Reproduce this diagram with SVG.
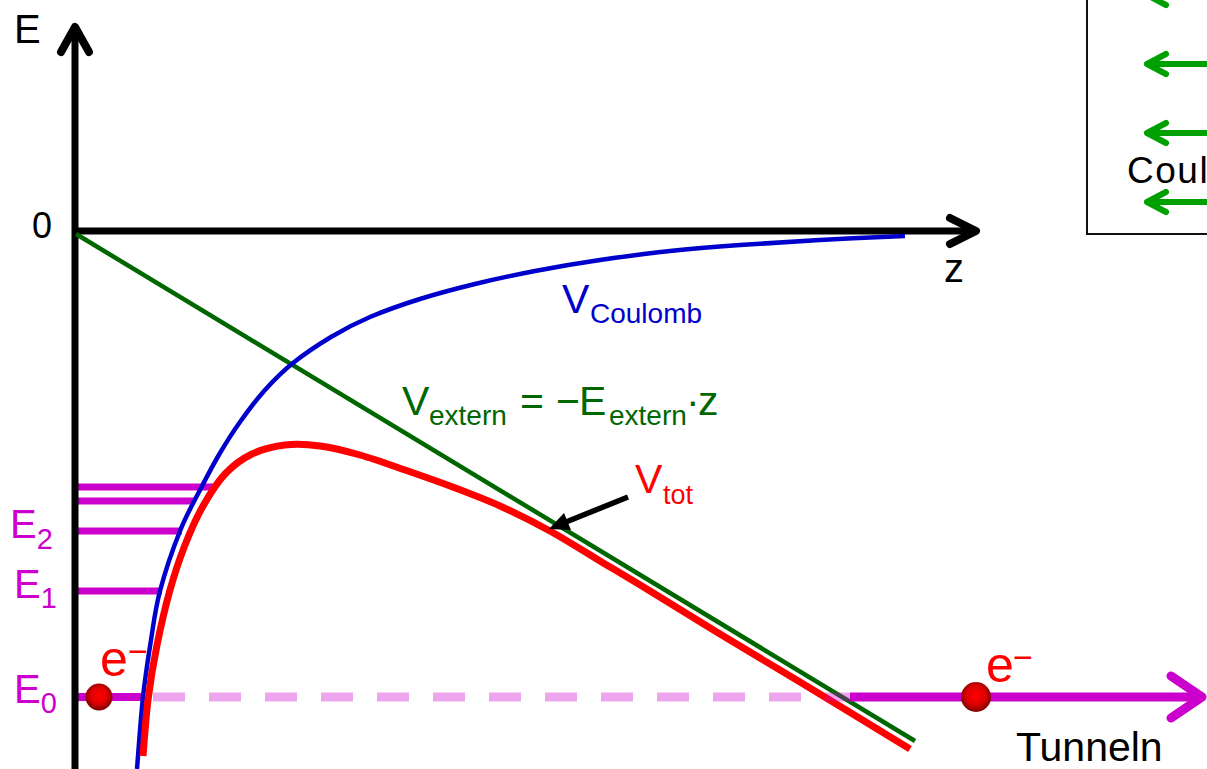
<svg xmlns="http://www.w3.org/2000/svg" width="1207" height="769" viewBox="0 0 1207 769">
<defs>
<style>
text{font-family:"Liberation Sans",Arial,sans-serif}
.ax{stroke:#000;stroke-width:7;fill:none}
.axh{stroke:#000;stroke-width:8;fill:none;stroke-linecap:round;stroke-linejoin:round}
.lvl{stroke:#cc00cc;stroke-width:7;fill:none}
.mg{fill:#cc00cc}
.rd{fill:#ff0000}
.gr{fill:#006600}
.bl{fill:#0000cc}
.la{stroke:#00a000;stroke-width:6;fill:none;stroke-linecap:round;stroke-linejoin:round}
</style>
<radialGradient id="ball" cx="50%" cy="45%" r="55%">
<stop offset="0" stop-color="#ff0000"/>
<stop offset="0.55" stop-color="#e00000"/>
<stop offset="1" stop-color="#7a0000"/>
</radialGradient>
</defs>
<rect width="1207" height="769" fill="#fff"/>

<g id="legend">
<rect x="1087" y="-10" width="140" height="244" fill="#fff" stroke="#111" stroke-width="2"/>
<path class="la" d="M1215,-5 H1147 M1166,-15 L1147,-5 L1166,5"/>
<path class="la" d="M1215,64 H1147 M1166,54 L1147,64 L1166,74"/>
<path class="la" d="M1215,133 H1147 M1166,123 L1147,133 L1166,143"/>
<path class="la" d="M1215,202 H1147 M1166,192 L1147,202 L1166,212"/>
<text x="1127" y="183" font-size="37" letter-spacing="1.5" fill="#000">Coul</text>
</g>

<g id="levels">
<line class="lvl" x1="78" y1="487" x2="217" y2="487"/>
<line class="lvl" x1="78" y1="501" x2="194" y2="501"/>
<line class="lvl" x1="78" y1="531" x2="182" y2="531"/>
<line class="lvl" x1="78" y1="591" x2="162" y2="591"/>
<line x1="78" y1="697" x2="145" y2="697" stroke="#cc00cc" stroke-width="8"/>
</g>

<g id="axes">
<line class="ax" x1="75" y1="769" x2="75" y2="28"/>
<path class="axh" d="M61,52 L75,27 L89,52"/>
<line class="ax" x1="72" y1="231" x2="975" y2="231"/>
<path class="axh" d="M950,218 L976,231 L950,244"/>
<text x="14" y="43" font-size="40" fill="#000">E</text>
<text x="52" y="238" font-size="36" fill="#000" text-anchor="end">0</text>
<text x="944" y="282" font-size="40" fill="#000">z</text>
</g>

<g id="curves">
<line x1="76" y1="234" x2="915" y2="741" stroke="#006600" stroke-width="4.5"/>
<path d="M137,769 C138,757 140.7,718.5 143,697 S148.2,657.7 151,640 S155.2,609.2 160,591 S173.3,547.8 180,531 S193.3,503 200,490 S213.3,464.3 220,453 S232.5,432.5 240,422 S256.2,399.8 265,390 S282,371.8 293,363 S318.2,344.7 331,337 S355.2,323.3 370,317 S402.5,304.5 420,299 S455.8,288.7 475,284 S514.2,275 535,271 S577.5,263.3 600,260 S646.7,253.5 670,251 S715,246.8 740,245 S792.5,241.5 820,240 S890.8,236.7 905,236" fill="none" stroke="#0000cc" stroke-width="4.5"/>
<path d="M143,756 C143.8,746.7 145.7,718.5 148,700 S153.3,663.3 157,645 S165.3,606.7 170,590 S179.5,559 185,545 S196.3,517.8 203,506 S216.8,482.7 225,474 S242,458.8 252,454 S273.7,446.3 285,445 S307.5,444.3 320,446 S345.8,451 360,455 S390,464.8 405,470 S434.2,480 450,486 S483.3,498.5 500,506 S533.3,521.8 550,531 S583.3,551 600,561 S630,578.8 650,591 S695,618.8 720,634 S768.3,662.8 800,682 S891.7,737.8 910,749" fill="none" stroke="#ff0000" stroke-width="7"/>
</g>

<g id="tunnel">
<line x1="153" y1="697" x2="850" y2="697" stroke="#cc00cc" stroke-opacity="0.35" stroke-width="9" stroke-dasharray="32 24"/>
<line x1="850" y1="697" x2="1200" y2="697" stroke="#cc00cc" stroke-width="9"/>
<path d="M1171,676 L1202,697 L1171,718" fill="none" stroke="#cc00cc" stroke-width="9" stroke-linecap="round" stroke-linejoin="round"/>
<circle cx="99" cy="697" r="13.5" fill="url(#ball)"/>
<circle cx="976" cy="697" r="15" fill="url(#ball)"/>
</g>

<g id="pointer">
<line x1="628" y1="497" x2="566" y2="522" stroke="#000" stroke-width="5.5"/>
<polygon points="549,529 571,530 564,513" fill="#000"/>
</g>

<g id="labels">
<text class="mg" x="10" y="538" font-size="40">E<tspan dy="11" font-size="29">2</tspan></text>
<text class="mg" x="14" y="598" font-size="40">E<tspan dy="10" font-size="29">1</tspan></text>
<text class="mg" x="14" y="703" font-size="40">E<tspan dy="10" font-size="29">0</tspan></text>
<text class="rd" x="100" y="676" font-size="50">e</text>
<text class="rd" x="128" y="663" font-size="34">−</text>
<text class="rd" x="986" y="682" font-size="50">e</text>
<text class="rd" x="1013" y="669" font-size="34">−</text>
<text x="1016" y="761" font-size="41" fill="#000">Tunneln</text>
<text class="bl" y="313" font-size="41"><tspan x="562">V</tspan><tspan x="590" dy="10" font-size="28">Coulomb</tspan></text>
<text class="gr" y="415" font-size="41"><tspan x="402">V</tspan><tspan x="429" dy="10" font-size="28">extern</tspan><tspan x="520" dy="-10">=</tspan><tspan x="556">−</tspan><tspan x="579">E</tspan><tspan x="609" dy="10" font-size="28">extern</tspan><tspan x="686" dy="-10">·</tspan><tspan x="698">z</tspan></text>
<text class="rd" y="493" font-size="41"><tspan x="635">V</tspan><tspan x="663" dy="11" font-size="27">tot</tspan></text>
</g>
</svg>
